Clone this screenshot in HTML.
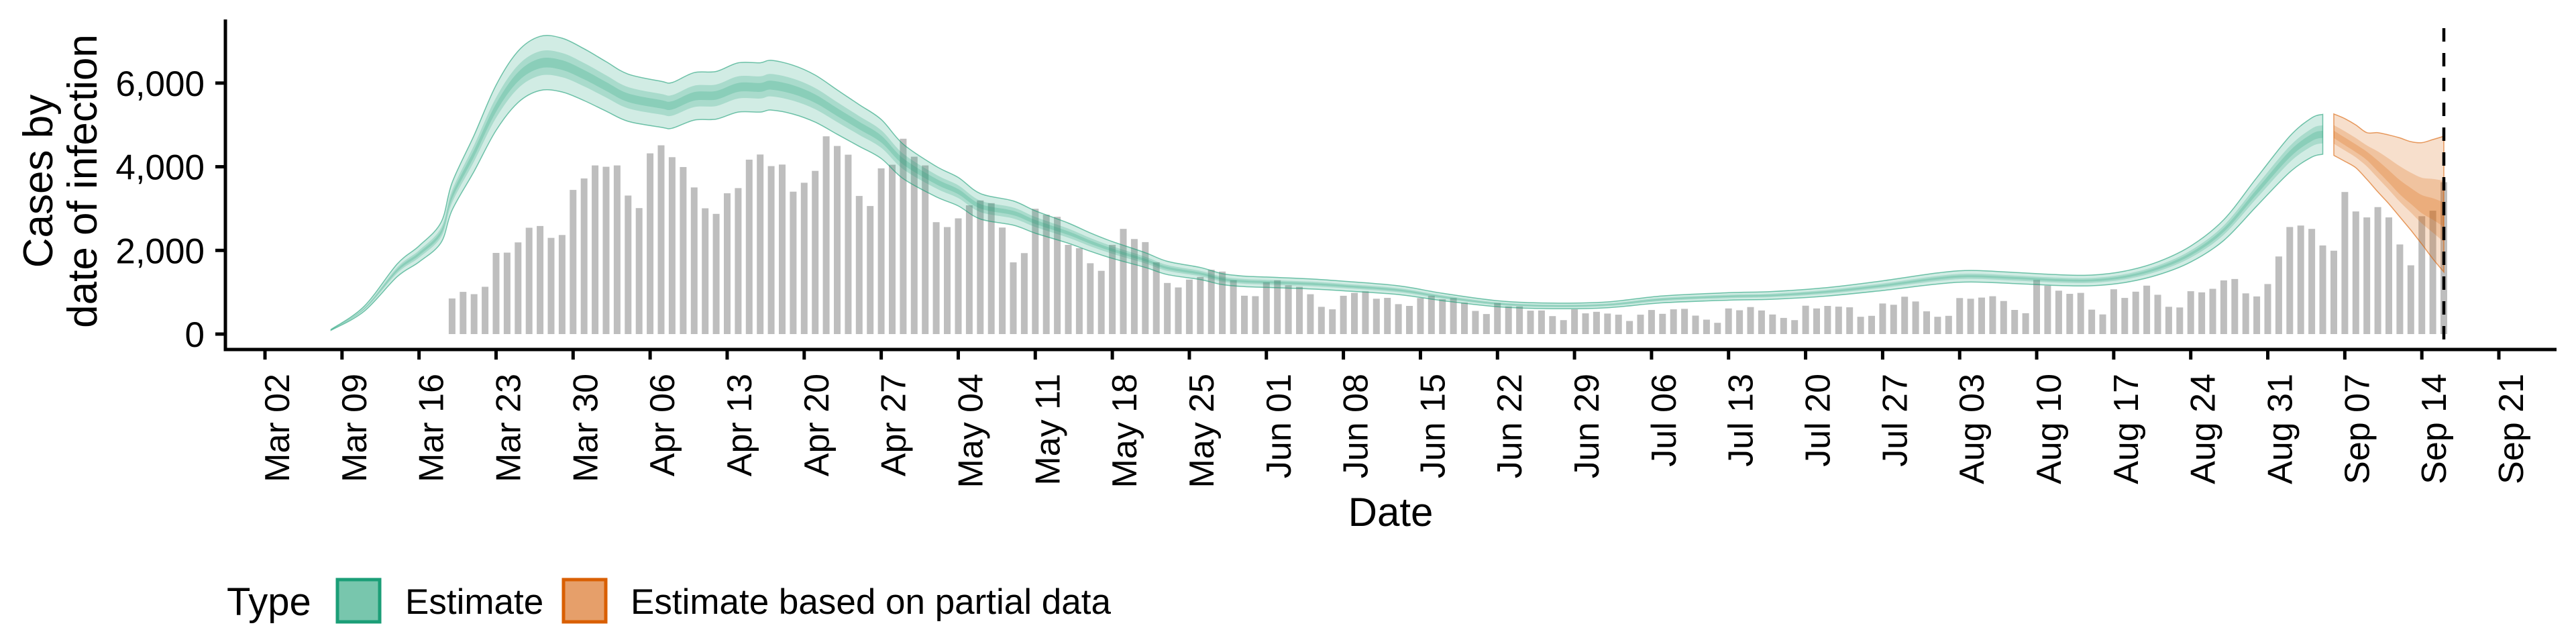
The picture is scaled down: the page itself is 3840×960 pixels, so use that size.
<!DOCTYPE html>
<html><head><meta charset="utf-8"><style>
html,body{margin:0;padding:0;background:#fff;}
svg{display:block;font-family:"Liberation Sans",Arial,sans-serif;}
</style></head><body>
<svg id="chart" width="3840" height="960" viewBox="0 0 3840 960" xmlns="http://www.w3.org/2000/svg">
<g id="bars"></g>
<g id="ribbons"></g>
<g id="axes"></g>
<g id="legend">
  <text x="338" y="917" font-size="58" fill="#000">Type</text>
  <rect x="503" y="864" width="63" height="63" fill="#78c6ad" stroke="#1b9e77" stroke-width="5"/>
  <text x="604" y="915" font-size="53" fill="#000">Estimate</text>
  <rect x="840" y="864" width="63" height="63" fill="#e69f6a" stroke="#d95f02" stroke-width="5"/>
  <text x="940" y="915" font-size="53" fill="#000">Estimate based on partial data</text>
</g>
</svg>
<script>
// ---- data (days since Mar 02) ----
const tickLabels = ["Mar 02","Mar 09","Mar 16","Mar 23","Mar 30","Apr 06","Apr 13","Apr 20","Apr 27","May 04","May 11","May 18","May 25","Jun 01","Jun 08","Jun 15","Jun 22","Jun 29","Jul 06","Jul 13","Jul 20","Jul 27","Aug 03","Aug 10","Aug 17","Aug 24","Aug 31","Sep 07","Sep 14","Sep 21"];
const yTicks = [0,2000,4000,6000];
const yTickLabels = ["0","2,000","4,000","6,000"];
const barStartDay = 17;
const barValues = [852,1008,954,1131,1940,1946,2192,2541,2583,2299,2369,3446,3720,4031,3999,4031,3312,3012,4320,4513,4229,3993,3505,3007,2873,3366,3489,4170,4293,4015,4052,3404,3618,3902,4728,4497,4288,3302,
3061,3961,4047,4669,4240,4031,2675,2557,2766,3077,3195,3130,2546,1715,1935,2996,2852,2803,2133,2053,1694,1512,2133,2514,2273,2198,1715,1222,1115,1302,1367,1538,1495,1286,917,906,
1238,1286,1168,1130,952,651,592,915,985,1022,845,866,716,673,861,915,834,861,753,554,479,743,662,662,560,565,430,334,592,495,533,490,463,312,463,576,484,
592,603,441,344,269,613,570,646,565,468,387,334,678,613,673,656,640,414,436,732,700,893,780,543,414,436,861,845,872,904,791,
578,498,1294,1157,1037,962,985,584,470,1071,865,1014,1157,939,653,636,1025,997,1082,1283,1317,974,899,1197,1856,2560,2594,2514,2119,1993,3396,2932,2789,3035,2789,2142,1644,2818,2949,3631];
const estDays = [6,9,12,14,16,17,19,21,23,25,27,29,31,33,36,37,39,41,43,45,46,48,50,52,54,56,58,61,63,65,68,70,73,75,77,80,82,85,87,89,91,95,98,103,107,112,117,122,127,133,137,142,147,152,155,159,163,166,169,172,175,178,181,184,186,187];
const estMedian = [100,600,1520,1915,2430,3290,4320,5410,6150,6470,6430,6200,5920,5650,5494,5467,5682,5708,5896,5896,5950,5842,5628,5306,4985,4663,4127,3645,3404,3055,2894,2680,2412,2198,2010,1769,1581,1447,1313,1260,1240,1200,1150,1049,888,726,673,700,830,899,925,1012,1157,1329,1383,1340,1290,1283,1369,1569,1913,2485,3400,4300,4700,4776];
const partDays = [188,189,190,191,192,193,194,195,196,197,198];
const partMedian = [4776,4600,4430,4261,4000,3730,3459,3250,3050,2940,2800];
const partUpper90 = [5263,5150,5000,4816,4816,4760,4690,4600,4576,4650,4730];
const partLower90 = [4272,4130,3975,3700,3400,3115,2800,2485,2150,1800,1483];
const dashedDay = 198;

// ---- scales ----
const X0 = 395, PXD = 16.404;
function x(d){ return X0 + d*PXD; }
function y(v){ return 498 - v*0.06236; }
const NS = "http://www.w3.org/2000/svg";
function mk(tag, attrs, parent){
  const e = document.createElementNS(NS, tag);
  for (const k in attrs) e.setAttribute(k, attrs[k]);
  parent.appendChild(e); return e;
}
function smooth(pts){
  let d = "";
  for (let i=0;i<pts.length-1;i++){
    const p0=pts[Math.max(0,i-1)], p1=pts[i], p2=pts[i+1], p3=pts[Math.min(pts.length-1,i+2)];
    const c1x=p1[0]+(p2[0]-p0[0])/6, c1y=p1[1]+(p2[1]-p0[1])/6;
    const c2x=p2[0]-(p3[0]-p1[0])/6, c2y=p2[1]-(p3[1]-p1[1])/6;
    d += ` C${c1x.toFixed(1)},${c1y.toFixed(1)} ${c2x.toFixed(1)},${c2y.toFixed(1)} ${p2[0].toFixed(1)},${p2[1].toFixed(1)}`;
  }
  return d;
}
function band(days, lo, hi){
  const up = days.map((d,i)=>[x(d), y(hi[i])]);
  const dn = days.map((d,i)=>[x(d), y(lo[i])]).reverse();
  return `M${up[0][0]},${up[0][1]}` + smooth(up) + ` L${dn[0][0]},${dn[0][1]}` + smooth(dn) + " Z";
}

// ---- bars ----
const gb = document.getElementById("bars");
barValues.forEach((v,i)=>{
  const d = barStartDay + i;
  const r = mk("rect", {x:(x(d)-5).toFixed(1), y:y(v).toFixed(1), width:10, height:(y(0)-y(v)).toFixed(1), fill:"#bebebe"}, gb);
  
  
});

// ---- ribbons ----
const gr = document.getElementById("ribbons");
const widths = [0.10, 0.045, 0.018];
widths.forEach((w,k)=>{
  const lo = estMedian.map(v=>v*(1-w)), hi = estMedian.map(v=>v*(1+w));
  const p = mk("path", {d:band(estDays, lo, hi), fill:"#1b9e77", "fill-opacity":k===0?0.2:0.22, stroke:k===0?"#1b9e77":"none", "stroke-width":1.5, "stroke-opacity":0.6}, gr);
  
  
});
const fr = [1, 0.45, 0.18];
fr.forEach((f,k)=>{
  const lo = partMedian.map((m,i)=>m-(m-partLower90[i])*f), hi = partMedian.map((m,i)=>m+(partUpper90[i]-m)*f);
  const p = mk("path", {d:band(partDays, lo, hi), fill:"#d95f02", "fill-opacity":k===0?0.2:0.22, stroke:k===0?"#d95f02":"none", "stroke-width":1.5, "stroke-opacity":0.6}, gr);
  
  
});

// ---- axes ----
const ga = document.getElementById("axes");
const xa = mk("line", {x1:336, y1:521, x2:3811, y2:521, stroke:"#000", "stroke-width":5}, ga);


const ya = mk("line", {x1:336, y1:29, x2:336, y2:523.5, stroke:"#000", "stroke-width":5}, ga);


tickLabels.forEach((lab,i)=>{
  const tx = x(i*7);
  const t = mk("line", {x1:tx, y1:521, x2:tx, y2:536, stroke:"#000", "stroke-width":5}, ga);
  
  
  const tl = mk("text", {x:0, y:0, transform:`translate(${(tx+19).toFixed(1)},557) rotate(-90)`, "text-anchor":"end", "dominant-baseline":"central", "font-size":52, fill:"#000"}, ga);
  tl.textContent = lab;
  
  
});
yTicks.forEach((v,i)=>{
  const ty = y(v);
  const t = mk("line", {x1:321, y1:ty, x2:336, y2:ty, stroke:"#000", "stroke-width":5}, ga);
  
  
  const tl = mk("text", {x:305, y:ty+19, "text-anchor":"end", "font-size":53, fill:"#000"}, ga);
  tl.textContent = yTickLabels[i];
  
  
});
const dl = mk("line", {x1:x(dashedDay), y1:42, x2:x(dashedDay), y2:521, stroke:"#000", "stroke-width":4.5, "stroke-dasharray":"20 17"}, ga);


const xt = mk("text", {x:2073, y:784, "text-anchor":"middle", "font-size":60, fill:"#000"}, ga);
xt.textContent = "Date";


const yt = mk("text", {transform:"translate(78,270) rotate(-90)", "text-anchor":"middle", "font-size":62, fill:"#000"}, ga);


const ts1 = mk("tspan", {x:0, y:0}, yt); ts1.textContent = "Cases by";
const ts2 = mk("tspan", {x:0, y:66}, yt); ts2.textContent = "date of infection";
</script>
</body></html>
